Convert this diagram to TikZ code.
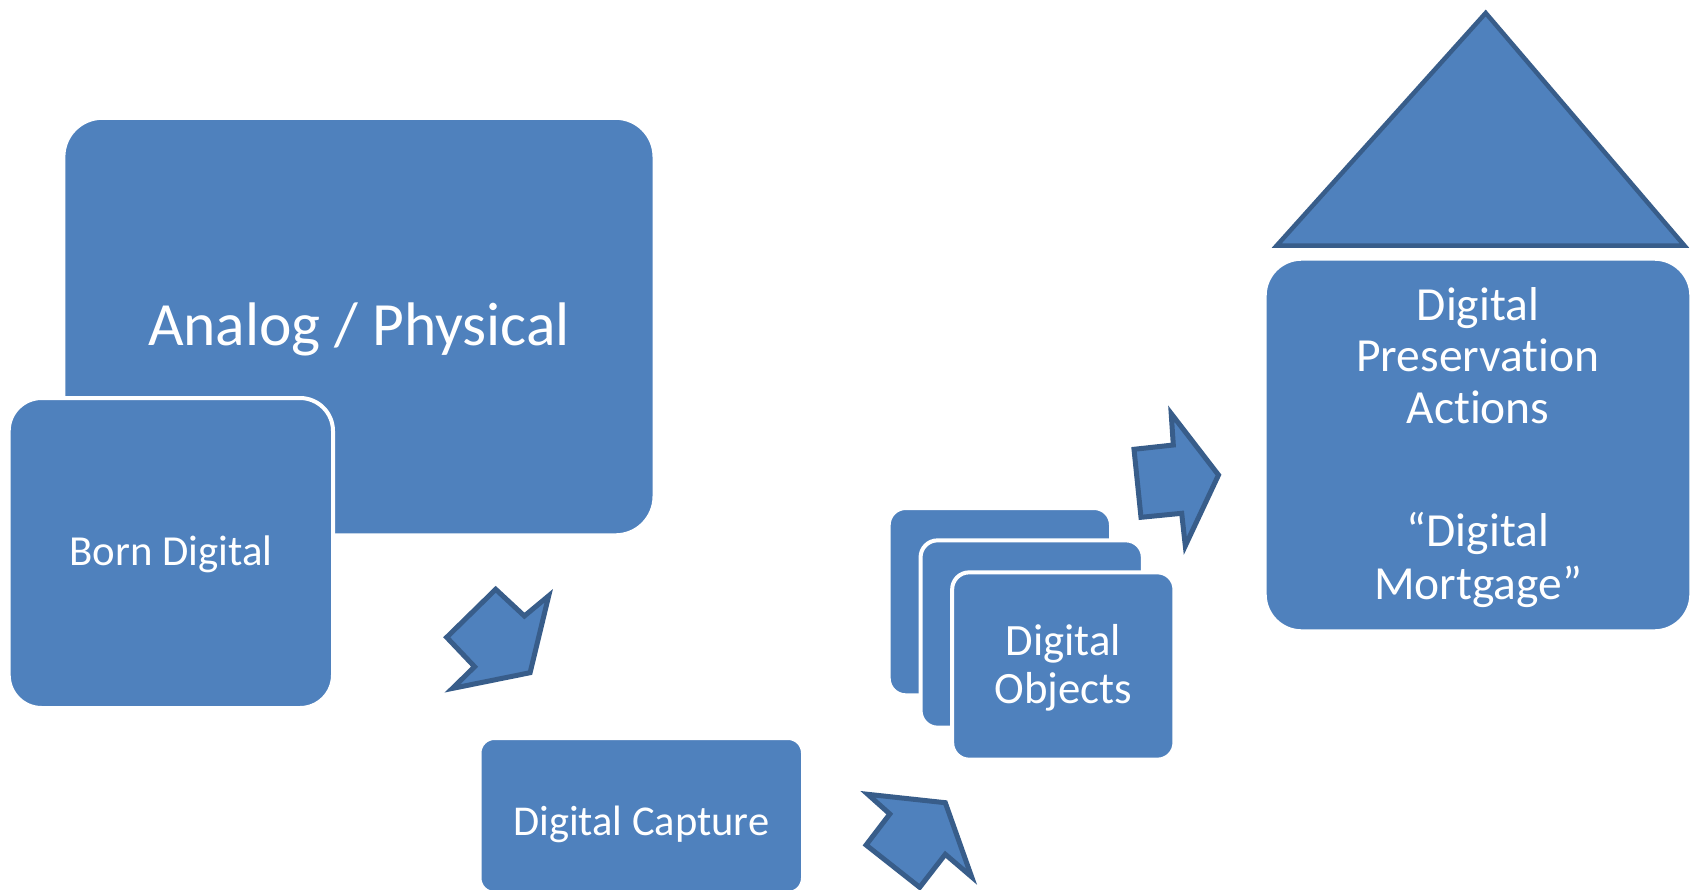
\documentclass[tikz,border=0pt]{standalone}
\usepackage{fontspec}
\setmainfont[Ligatures={NoCommon,NoContextual}]{Carlito}
\definecolor{fillblue}{HTML}{4F81BD}
\definecolor{edgeblue}{HTML}{385D8A}
\begin{document}
\begin{tikzpicture}[x=1pt,y=-1pt,
  box/.style={draw=white, line width=4pt, fill=fillblue, inner sep=0pt, outer sep=0pt},
  stackbox/.style={box, minimum width=222.3pt, minimum height=187.3pt, rounded corners=17pt},
  lbl/.style={text=white, anchor=base, inner sep=0pt, outer sep=0pt},
  bigarrow/.style={draw=edgeblue, line width=5pt, fill=fillblue, line join=miter, miter limit=10}]
\useasboundingbox (0,0) rectangle (1692,889);
\begin{scope}
\clip (0,0) rectangle (1692,889);
% boxes
\node[box, minimum width=591.1pt, minimum height=417.5pt, rounded corners=39pt] (analog) at (358.95,326.55) {};
\node[box, minimum width=324.3pt, minimum height=310pt, rounded corners=33pt] (born) at (170.85,553) {};
\node[box, minimum width=323.5pt, minimum height=155pt, rounded corners=15pt] (capture) at (641.25,815.5) {};
\node[stackbox] (objback) at (999.85,601.65) {};
\node[stackbox] (objmid) at (1031.7,634) {};
\node[stackbox] (objfront) at (1063.3,666) {};
\node[box, minimum width=426.6pt, minimum height=372.6pt, rounded corners=37pt] (preserve) at (1478,445) {};
% roof triangle
\draw[bigarrow, line width=4.5pt] (1485.7,13) -- (1276.8,245.5) -- (1684.3,245.5) -- cycle;
% block arrows
\draw[bigarrow] (495.7,589.3) -- (524.4,616) -- (548.7,595.8) -- (530.1,672.7) -- (452.4,688.4) -- (474.6,666.7) -- (446.7,637.3) -- cycle;
\draw[bigarrow] (867.8,794.3) -- (945.3,802.7) -- (971.6,876.8) -- (945.3,854.3) -- (919.7,887.3) -- (866.1,845) -- (889.8,814) -- cycle;
\draw[bigarrow] (1171.2,413.6) -- (1218.5,475) -- (1185.3,545.8) -- (1181.7,513.3) -- (1141,517.3) -- (1134,449.3) -- (1173.3,445) -- cycle;
\end{scope}
% labels
\node[lbl, font=\fontsize{61.5}{68}\selectfont] (analogtxt) at (358.95,345) {Analog / Physical};
\node[lbl, font=\fontsize{42.8}{47}\selectfont] (borntxt) at (170.85,565.7) {Born Digital};
\node[lbl, font=\fontsize{42.5}{47}\selectfont] (capturetxt) at (641.25,835) {Digital Capture};
\node[lbl, font=\fontsize{44.8}{48}\selectfont] (objtxta) at (1063.3,655) {Digital};
\node[lbl, font=\fontsize{44.8}{48}\selectfont] (objtxtb) at (1063.3,703.3) {Objects};
\node[lbl, font=\fontsize{47.5}{52}\selectfont] (prestxta) at (1478,320) {Digital};
\node[lbl, font=\fontsize{47.5}{52}\selectfont] (prestxtb) at (1478,371.7) {Preservat\kern0pt ion};
\node[lbl, font=\fontsize{47.5}{52}\selectfont] (prestxtc) at (1478,423.3) {Act\kern0pt ions};
\node[lbl, font=\fontsize{47.5}{52}\selectfont] (prestxtd) at (1478,546.7) {“Digital};
\node[lbl, font=\fontsize{47.5}{52}\selectfont] (prestxte) at (1478,599.3) {Mortgage”};
\end{tikzpicture}
\end{document}
